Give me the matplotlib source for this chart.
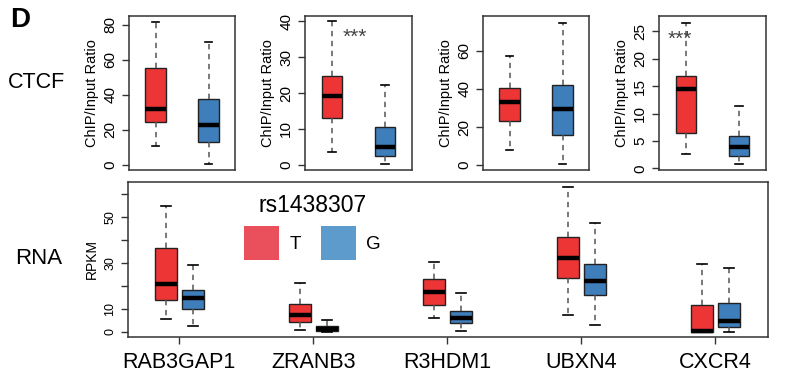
import matplotlib.pyplot as plt
import numpy as np
from matplotlib.patches import Patch

plt.rcParams['font.family'] = ['Liberation Sans', 'DejaVu Sans']

# box stats as [whislo, q1, med, q3, whishi]
ctcf_t = [[11, 24.7, 32.2, 55.6, 81.3],
          [3.5, 13.0, 19.1, 24.7, 40.0],
          [8.0, 23.2, 33.0, 40.3, 57.2],
          [2.6, 6.5, 14.5, 16.8, 26.6]]
ctcf_g = [[0.6, 13.3, 23.0, 37.7, 69.9],
          [0.3, 2.5, 5.0, 10.5, 22.2],
          [0.5, 16.0, 29.5, 41.9, 74.6],
          [0.8, 2.3, 3.9, 5.9, 11.3]]
ctcf_ylim = [(-2.9, 85), (-1.4, 41.4), (-2.5, 78.3), (-0.3, 27.8)]
ctcf_ticks = [[0, 20, 40, 60, 80], [0, 10, 20, 30, 40], [0, 20, 40, 60], [0, 5, 10, 15, 20, 25]]
stars = [None, (1.43, 35.5), None, (0.89, 23.6)]

genes = ['RAB3GAP1', 'ZRANB3', 'R3HDM1', 'UBXN4', 'CXCR4']
rna_t = [[5.5, 13.9, 21.0, 36.5, 54.9],
         [0.9, 4.5, 7.4, 12.3, 21.2],
         [6.0, 11.6, 17.3, 23.1, 30.6],
         [7.4, 23.7, 32.3, 41.3, 63.0],
         [0.0, 0.0, 0.6, 11.9, 29.8]]
rna_g = [[2.8, 10.0, 14.7, 18.3, 29.2],
         [0.0, 0.4, 1.5, 2.6, 5.2],
         [0.3, 4.1, 6.2, 9.3, 16.9],
         [2.9, 16.0, 22.2, 29.6, 47.7],
         [0.1, 2.0, 4.8, 12.5, 28.0]]
rna_yticks = [0, 10, 20, 30, 40, 50, 60]
rna_ylabels = ['0', '10', '', '30', '', '50', '']

RED = '#ee3536'
BLUE = '#3e7eba'
LEG_RED = '#ea505c'
LEG_BLUE = '#5d9bcc'
FRAME = '#333333'


def stats(v):
    return dict(whislo=v[0], q1=v[1], med=v[2], q3=v[3], whishi=v[4], fliers=[])


def draw(ax, data, pos, w, color, capw):
    return ax.bxp([stats(v) for v in data], positions=pos, widths=w, capwidths=capw,
                  patch_artist=True, manage_ticks=False,
                  boxprops=dict(facecolor=color, edgecolor='#222222', linewidth=1),
                  medianprops=dict(color='black', linewidth=3.2, solid_capstyle='butt'),
                  whiskerprops=dict(color='#555555', linestyle=(0, (3.5, 3)), linewidth=1.1),
                  capprops=dict(color='black', linewidth=1.2))


def frame(ax):
    for s in ax.spines.values():
        s.set_color(FRAME)
        s.set_linewidth(1.1)
    ax.tick_params(axis='y', direction='out', length=5, color=FRAME, width=1)


fig = plt.figure(figsize=(7.85, 3.76), dpi=100)
W, H = 785, 376

top_x = [(129, 235), (305, 412), (483, 589), (659, 766)]
for i in range(4):
    x0, x1 = top_x[i]
    ax = fig.add_axes([x0 / W, 1 - 170 / H, (x1 - x0) / W, 154 / H])
    draw(ax, [ctcf_t[i]], [1], 0.38, RED, 0.15)
    draw(ax, [ctcf_g[i]], [2], 0.38, BLUE, 0.15)
    ax.set_xlim(0.5, 2.5)
    ax.set_ylim(*ctcf_ylim[i])
    ax.set_xticks([])
    ax.set_yticks(ctcf_ticks[i])
    ax.set_yticklabels([str(t) for t in ctcf_ticks[i]], rotation=90, va='center', fontsize=11)
    ax.set_ylabel('ChIP/Input Ratio', fontsize=10.5, labelpad=3)
    frame(ax)
    if stars[i] is not None:
        ax.text(stars[i][0], stars[i][1], '***', ha='center', va='center', fontsize=15,
                color='#444444')

axb = fig.add_axes([128.3 / W, 1 - 336.7 / H, 639.4 / W, 155 / H])
pos = np.arange(1, len(genes) + 1)
draw(axb, rna_t, pos - 0.1, 0.165, RED, 0.075)
draw(axb, rna_g, pos + 0.1, 0.165, BLUE, 0.075)
axb.set_xlim(0.62, 5.39)
axb.set_ylim(-2.05, 65.5)
axb.set_yticks(rna_yticks)
axb.set_yticklabels(rna_ylabels, rotation=90, va='center', fontsize=9)
axb.set_xticks(pos)
axb.set_xticklabels(genes, fontsize=15.5)
axb.set_ylabel('RPKM', fontsize=10, labelpad=4)
frame(axb)
axb.tick_params(axis='x', direction='out', length=5, color=FRAME, width=1, pad=6)

# legend
leg = axb.legend(handles=[Patch(facecolor=LEG_RED, edgecolor='none'),
                          Patch(facecolor=LEG_BLUE, edgecolor='none')],
                 labels=['T', 'G'], ncol=2, frameon=False, title='rs1438307',
                 title_fontsize=16.5, fontsize=13.5, handlelength=1.85, handleheight=2.4,
                 handletextpad=0.55, columnspacing=1.1, loc='upper left',
                 bbox_to_anchor=(0.17, 0.97), borderaxespad=0)

fig.text(10 / W, 1 - 20 / H, 'D', fontsize=20, fontweight='bold', va='center', ha='left')
fig.text(8 / W, 1 - 82 / H, 'CTCF', fontsize=15.5, va='center', ha='left')
fig.text(15 / W, 1 - 258 / H, 'RNA', fontsize=16, va='center', ha='left')

fig.savefig('out.png', dpi=100)
